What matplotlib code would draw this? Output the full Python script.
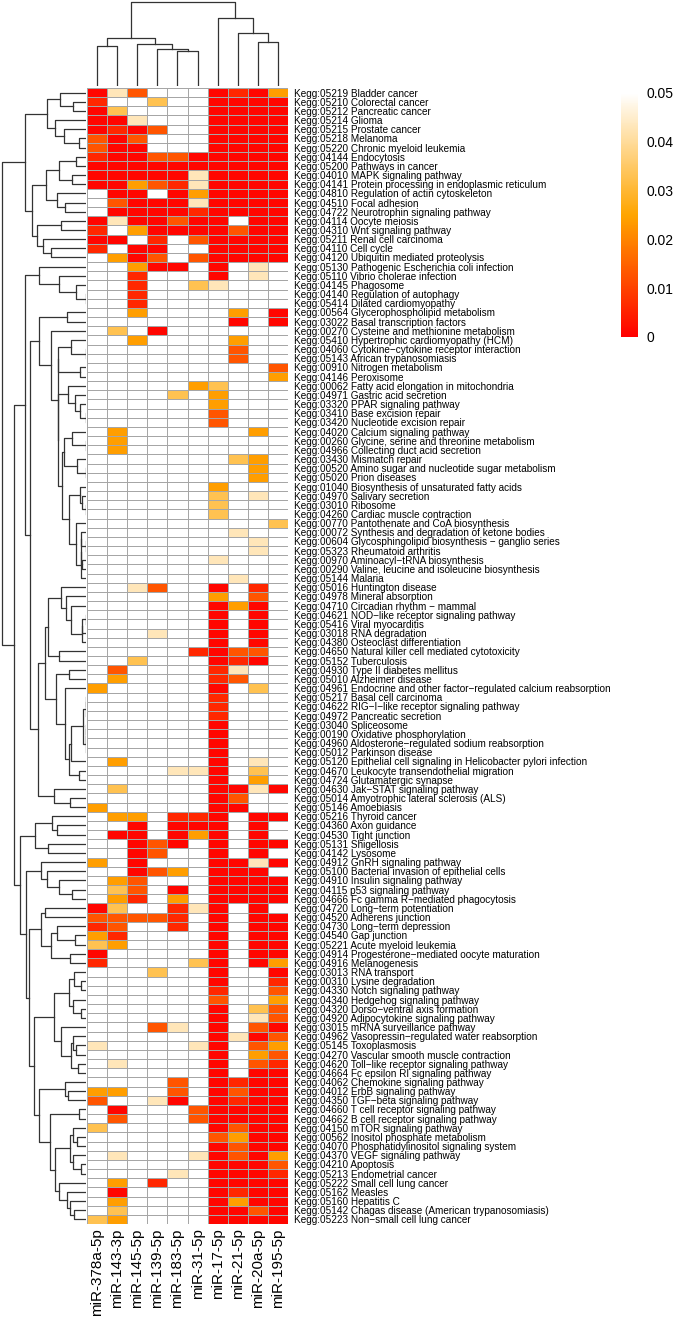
import numpy as np
import matplotlib
matplotlib.use("Agg")
import matplotlib.pyplot as plt
from matplotlib.colors import LinearSegmentedColormap

plt.rcParams['font.family'] = ['Liberation Sans', 'DejaVu Sans']

# -------------------------------------------------------------------------
# Data: enrichment p-values per KEGG pathway (rows) and miRNA (columns)
# -------------------------------------------------------------------------
columnNames = ["miR-378a-5p", "miR-143-3p", "miR-145-5p", "miR-139-5p", "miR-183-5p",
               "miR-31-5p", "miR-17-5p", "miR-21-5p", "miR-20a-5p", "miR-195-5p"]

rowLabels = [
    "Kegg:05219 Bladder cancer", "Kegg:05210 Colorectal cancer", "Kegg:05212 Pancreatic cancer",
    "Kegg:05214 Glioma", "Kegg:05215 Prostate cancer", "Kegg:05218 Melanoma",
    "Kegg:05220 Chronic myeloid leukemia", "Kegg:04144 Endocytosis", "Kegg:05200 Pathways in cancer",
    "Kegg:04010 MAPK signaling pathway", "Kegg:04141 Protein processing in endoplasmic reticulum",
    "Kegg:04810 Regulation of actin cytoskeleton", "Kegg:04510 Focal adhesion",
    "Kegg:04722 Neurotrophin signaling pathway", "Kegg:04114 Oocyte meiosis",
    "Kegg:04310 Wnt signaling pathway", "Kegg:05211 Renal cell carcinoma", "Kegg:04110 Cell cycle",
    "Kegg:04120 Ubiquitin mediated proteolysis", "Kegg:05130 Pathogenic Escherichia coli infection",
    "Kegg:05110 Vibrio cholerae infection", "Kegg:04145 Phagosome", "Kegg:04140 Regulation of autophagy",
    "Kegg:05414 Dilated cardiomyopathy", "Kegg:00564 Glycerophospholipid metabolism",
    "Kegg:03022 Basal transcription factors", "Kegg:00270 Cysteine and methionine metabolism",
    "Kegg:05410 Hypertrophic cardiomyopathy (HCM)", "Kegg:04060 Cytokine\u2212cytokine receptor interaction",
    "Kegg:05143 African trypanosomiasis", "Kegg:00910 Nitrogen metabolism", "Kegg:04146 Peroxisome",
    "Kegg:00062 Fatty acid elongation in mitochondria", "Kegg:04971 Gastric acid secretion",
    "Kegg:03320 PPAR signaling pathway", "Kegg:03410 Base excision repair",
    "Kegg:03420 Nucleotide excision repair", "Kegg:04020 Calcium signaling pathway",
    "Kegg:00260 Glycine, serine and threonine metabolism", "Kegg:04966 Collecting duct acid secretion",
    "Kegg:03430 Mismatch repair", "Kegg:00520 Amino sugar and nucleotide sugar metabolism",
    "Kegg:05020 Prion diseases", "Kegg:01040 Biosynthesis of unsaturated fatty acids",
    "Kegg:04970 Salivary secretion", "Kegg:03010 Ribosome", "Kegg:04260 Cardiac muscle contraction",
    "Kegg:00770 Pantothenate and CoA biosynthesis", "Kegg:00072 Synthesis and degradation of ketone bodies",
    "Kegg:00604 Glycosphingolipid biosynthesis \u2212 ganglio series", "Kegg:05323 Rheumatoid arthritis",
    "Kegg:00970 Aminoacyl\u2212tRNA biosynthesis", "Kegg:00290 Valine, leucine and isoleucine biosynthesis",
    "Kegg:05144 Malaria", "Kegg:05016 Huntington disease", "Kegg:04978 Mineral absorption",
    "Kegg:04710 Circadian rhythm \u2212 mammal", "Kegg:04621 NOD\u2212like receptor signaling pathway",
    "Kegg:05416 Viral myocarditis", "Kegg:03018 RNA degradation", "Kegg:04380 Osteoclast differentiation",
    "Kegg:04650 Natural killer cell mediated cytotoxicity", "Kegg:05152 Tuberculosis",
    "Kegg:04930 Type II diabetes mellitus", "Kegg:05010 Alzheimer disease",
    "Kegg:04961 Endocrine and other factor\u2212regulated calcium reabsorption",
    "Kegg:05217 Basal cell carcinoma", "Kegg:04622 RIG\u2212I\u2212like receptor signaling pathway",
    "Kegg:04972 Pancreatic secretion", "Kegg:03040 Spliceosome", "Kegg:00190 Oxidative phosphorylation",
    "Kegg:04960 Aldosterone\u2212regulated sodium reabsorption", "Kegg:05012 Parkinson disease",
    "Kegg:05120 Epithelial cell signaling in Helicobacter pylori infection",
    "Kegg:04670 Leukocyte transendothelial migration", "Kegg:04724 Glutamatergic synapse",
    "Kegg:04630 Jak\u2212STAT signaling pathway", "Kegg:05014 Amyotrophic lateral sclerosis (ALS)",
    "Kegg:05146 Amoebiasis", "Kegg:05216 Thyroid cancer", "Kegg:04360 Axon guidance",
    "Kegg:04530 Tight junction", "Kegg:05131 Shigellosis", "Kegg:04142 Lysosome",
    "Kegg:04912 GnRH signaling pathway", "Kegg:05100 Bacterial invasion of epithelial cells",
    "Kegg:04910 Insulin signaling pathway", "Kegg:04115 p53 signaling pathway",
    "Kegg:04666 Fc gamma R\u2212mediated phagocytosis", "Kegg:04720 Long\u2212term potentiation",
    "Kegg:04520 Adherens junction", "Kegg:04730 Long\u2212term depression", "Kegg:04540 Gap junction",
    "Kegg:05221 Acute myeloid leukemia", "Kegg:04914 Progesterone\u2212mediated oocyte maturation",
    "Kegg:04916 Melanogenesis", "Kegg:03013 RNA transport", "Kegg:00310 Lysine degradation",
    "Kegg:04330 Notch signaling pathway", "Kegg:04340 Hedgehog signaling pathway",
    "Kegg:04320 Dorso\u2212ventral axis formation", "Kegg:04920 Adipocytokine signaling pathway",
    "Kegg:03015 mRNA surveillance pathway", "Kegg:04962 Vasopressin\u2212regulated water reabsorption",
    "Kegg:05145 Toxoplasmosis", "Kegg:04270 Vascular smooth muscle contraction",
    "Kegg:04620 Toll\u2212like receptor signaling pathway", "Kegg:04664 Fc epsilon RI signaling pathway",
    "Kegg:04062 Chemokine signaling pathway", "Kegg:04012 ErbB signaling pathway",
    "Kegg:04350 TGF\u2212beta signaling pathway", "Kegg:04660 T cell receptor signaling pathway",
    "Kegg:04662 B cell receptor signaling pathway", "Kegg:04150 mTOR signaling pathway",
    "Kegg:00562 Inositol phosphate metabolism", "Kegg:04070 Phosphatidylinositol signaling system",
    "Kegg:04370 VEGF signaling pathway", "Kegg:04210 Apoptosis", "Kegg:05213 Endometrial cancer",
    "Kegg:05222 Small cell lung cancer", "Kegg:05162 Measles", "Kegg:05160 Hepatitis C",
    "Kegg:05142 Chagas disease (American trypanosomiasis)", "Kegg:05223 Non\u2212small cell lung cancer",
]

# one letter per miRNA column, estimated p-value level read from the colour
codeValues = {"R": 0.001, "r": 0.006, "O": 0.013, "o": 0.024, "y": 0.033, "l": 0.043, "w": 0.05}

cellCodes = [
    "RlOwwwRrRo", "rwwywwRRRR", "RywwwwRRRR", "RRlwwwRRRR", "RrROwwRRRR",
    "OROwwwRRRR", "ORRwwwRRRR", "rRROORRRRR", "RRRRRRRRRR", "RRRRRlRRRR",
    "RRoOrlRRRR", "wRRwRoRRRR", "wORRRlRRRR", "wRRRRrRRRR", "RlRRORRwRR",
    "rwoRRRRORR", "RRwrwORRRR", "rwRRwwRRRR", "woROwORRRR", "wwoRRwRwlw",
    "wwrwwwRwlw", "wwrwwylwww", "wwrwwwwwww", "wwrwwwwwww", "wwowwwwowR",
    "wwwwwwwRwR", "wywRwwwwww", "wwowwwwoww", "wwwwwwwOww", "wwwwwwwOww",
    "wwwwwwwwwO", "wwwwwwwwwo", "wwwwwoywww", "wwwwywowww", "wwwwwwowww",
    "wwwwwwOwww", "wwwwwwOwww", "wowwwwwwow", "wowwwwwwww", "wowwwwwwww",
    "wwwwwwwyow", "wwwwwwwwow", "wwwwwwwwow", "wwwwwwowww", "wwwwwwywlw",
    "wwwwwwywww", "wwwwwwywww", "wwwwwwwwwy", "wwwwwwwlww", "wwwwwwwwlw",
    "wwwwwwwwlw", "wwwwwwlwww", "wwwwwwwwww", "wwwwwwwlww", "wwlOwwRwrw",
    "wwwwwwowOw", "wwwwwwRoRw", "wwwwwwRwRw", "wwwwwwRwRw", "wwwlwwRwRw",
    "wwwwwwRwRw", "wwwwwrROOw", "wwywwwRrRw", "wOwwwwrlww", "wowwwwrOww",
    "owwwwwRwyw", "wwwwwwrwww", "wwwwwwrwww", "wwwwwwrwww", "wwwwwwRwww",
    "wwwwwwRwww", "wwwwwwRwww", "wwwwwwRwww", "wowwwwRwlw", "wwwwllRwyw",
    "wwwwwwRwow", "wywwwwRRlR", "wwwwwwROww", "owwwwwRRww", "woowrrRwRR",
    "wwRwRRRwRw", "wRRwRoRwRw", "wwRORwRwRR", "wwROwwRwRw", "owRwwwRRlR",
    "wwROowRRRw", "woOwwwRRRR", "wyOwRwRRRR", "worwowRRRR", "RywwrlRwRw",
    "OOOOrwRwRR", "rOwwrwRwRR", "orwwwwRwRR", "yowwwwRwRR", "RwwwwwRwRR",
    "rwwwwyRwRo", "wwwywwRwwR", "wwwwwwRwwr", "wwwwwwrwwO", "wwwwwwOwwo",
    "wwwwwwRwyO", "wwwwwwRwlO", "wwwOlwRwOR", "wwwwwwRlRO", "lwwwwlRwOo",
    "wwwwwwRwoO", "wlwwwwRwOr", "wwwwwwRwRR", "wwwwOwRrRR", "oowwOwRORR",
    "OwwlRwRrRR", "wRwwwORRRR", "wOwwwORRRR", "ywwwwwRORR", "wwwwwwOoRR",
    "wwwwwwRORR", "wlwwwlRORo", "wwwwwwRRRO", "wwwwlwRRRr", "wowrwwRRRR",
    "wRwwwwRrRR", "wowwwwRoRR", "wywwwwRROR", "yowwwwRRRR",
]

# column clustering: (left leaves, right leaves, merge height)
colMerges = [
    ([4], [5], 35.7),
    ([3], [4, 5], 37.3),
    ([0], [1], 40.3),
    ([2], [3, 4, 5], 42.0),
    ([8], [9], 44.0),
    ([0, 1], [2, 3, 4, 5], 48.0),
    ([7], [8, 9], 53.3),
    ([6], [7, 8, 9], 68.3),
    ([0, 1, 2, 3, 4, 5], [6, 7, 8, 9], 85.0),
]

legendTicks = [0, 0.01, 0.02, 0.03, 0.04, 0.05]

values = np.array([[codeValues[c] for c in row] for row in cellCodes])
nRows, nCols = values.shape


def adjacentLinkage(data):
    # complete linkage (euclidean), only neighbouring clusters may merge so the drawn order is kept
    dist = np.sqrt(((data[:, None, :] - data[None, :, :]) ** 2).sum(-1))
    clusters = [([i], i + 0.5, 0.0) for i in range(len(data))]
    links = []
    while len(clusters) > 1:
        gaps = [dist[np.ix_(clusters[k][0], clusters[k + 1][0])].max() for k in range(len(clusters) - 1)]
        k = int(np.argmin(gaps))
        a, b = clusters[k], clusters[k + 1]
        h = gaps[k]
        links.append((a[1], a[2], b[1], b[2], h))
        clusters[k:k + 2] = [(a[0] + b[0], (a[1] + b[1]) / 2, h)]
    return links


def linksFromMerges(merges):
    nodes = {}
    links = []
    for left, right, h in merges:
        p1, h1 = nodes.get(tuple(left), (left[0] + 0.5, 0.0))
        p2, h2 = nodes.get(tuple(right), (right[0] + 0.5, 0.0))
        links.append((p1, h1, p2, h2, h))
        nodes[tuple(left + right)] = ((p1 + p2) / 2, h)
    return links


rowLinks = adjacentLinkage(values)
colLinks = linksFromMerges(colMerges)

# -------------------------------------------------------------------------
# Layout (pixel boxes converted to figure fractions)
# -------------------------------------------------------------------------
W, H = 673, 1324
fig = plt.figure(figsize=(W / 100, H / 100), dpi=100)


def box(x0, y0, x1, y1):
    return [x0 / W, 1 - y1 / H, (x1 - x0) / W, (y1 - y0) / H]


hmLeft, hmRight, hmTop, hmBottom = 87, 288, 88, 1224
axHeat = fig.add_axes(box(hmLeft, hmTop, hmRight, hmBottom))
axRowDen = fig.add_axes(box(1, hmTop, hmLeft - 1, hmBottom))
axColDen = fig.add_axes(box(hmLeft, 1, hmRight, hmTop - 2))
axBar = fig.add_axes(box(621, 93, 638, 337))

cmap = LinearSegmentedColormap.from_list("pval", ["#FF0000", "#FFA500", "#FFFFFF"])

# -------------------------------------------------------------------------
# Heatmap
# -------------------------------------------------------------------------
mesh = axHeat.pcolormesh(values, cmap=cmap, vmin=0, vmax=0.05,
                         edgecolors="#A6A6A6", linewidth=0.7)
axHeat.set_xlim(0, nCols)
axHeat.set_ylim(nRows, 0)
axHeat.set_xticks(np.arange(nCols) + 0.5)
axHeat.set_xticklabels(columnNames, rotation=90, fontsize=11)
axHeat.set_yticks(np.arange(nRows) + 0.5)
axHeat.set_yticklabels(rowLabels, fontsize=7.2)
axHeat.yaxis.tick_right()
axHeat.tick_params(length=0, pad=4)
axHeat.tick_params(axis="x", pad=3)
for s in axHeat.spines.values():
    s.set_visible(False)

# -------------------------------------------------------------------------
# Dendrograms
# -------------------------------------------------------------------------
denColor = "#333333"
for p1, h1, p2, h2, h in rowLinks:
    axRowDen.plot([h1, h, h, h2], [p1, p1, p2, p2], color=denColor, lw=0.9)
axRowDen.set_ylim(nRows, 0)
axRowDen.set_xlim(max(l[4] for l in rowLinks) * 1.01, 0)
axRowDen.axis("off")

for p1, h1, p2, h2, h in colLinks:
    axColDen.plot([p1, p1, p2, p2], [h1, h, h, h2], color=denColor, lw=0.9)
axColDen.set_xlim(0, nCols)
axColDen.set_ylim(0, max(l[4] for l in colLinks) * 1.01)
axColDen.axis("off")

# -------------------------------------------------------------------------
# Colour legend
# -------------------------------------------------------------------------
cb = fig.colorbar(mesh, cax=axBar, ticks=legendTicks)
cb.outline.set_visible(False)
cb.ax.set_yticklabels([f"{t:g}" for t in legendTicks], fontsize=10)
cb.ax.tick_params(length=0, pad=6)

fig.savefig("out.png", dpi=100)
